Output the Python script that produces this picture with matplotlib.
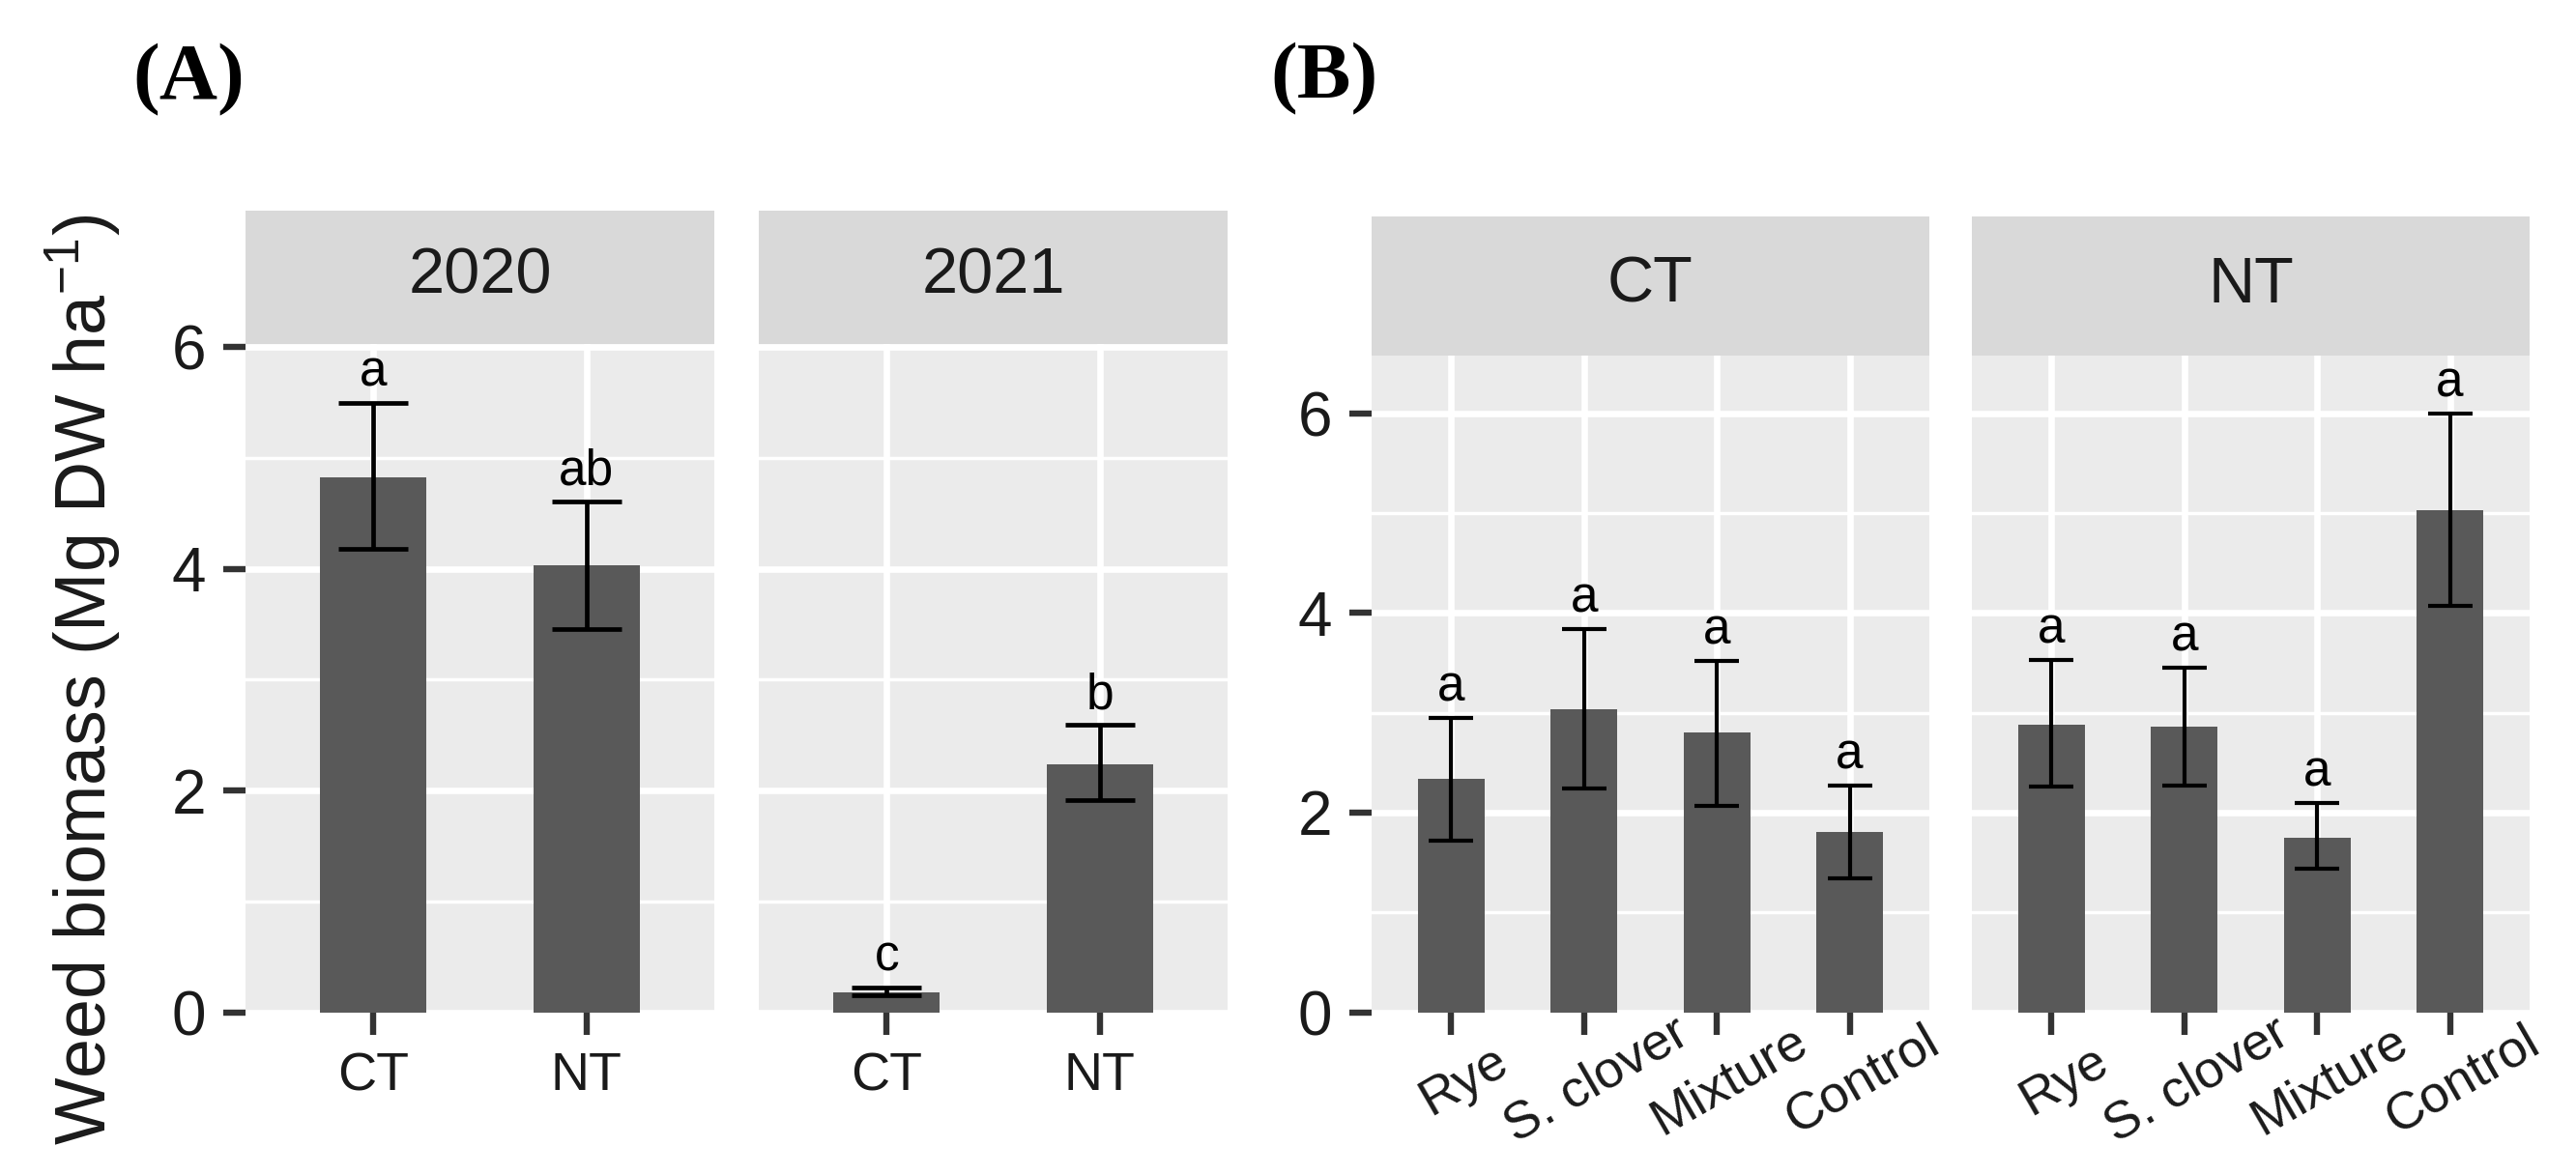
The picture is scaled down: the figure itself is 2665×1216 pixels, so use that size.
import matplotlib
matplotlib.use('Agg')
import matplotlib.pyplot as plt
from matplotlib.transforms import ScaledTranslation
import numpy as np

plt.rcParams['font.family'] = ['Liberation Sans', 'DejaVu Sans']
plt.rcParams['mathtext.fontset'] = 'custom'
plt.rcParams['mathtext.rm'] = 'Liberation Sans'
plt.rcParams['mathtext.it'] = 'Liberation Sans:italic'
plt.rcParams['mathtext.sf'] = 'Liberation Sans'

# ---------------- data ----------------
# Panel A: weed biomass by tillage, faceted by year
tillage_labels = ['CT', 'NT']
year_panels = ['2020', '2021']
biomass_2020 = [4.83, 4.03]
lower_2020 = [4.18, 3.46]
upper_2020 = [5.50, 4.61]
letters_2020 = ['a', 'ab']
biomass_2021 = [0.18, 2.24]
lower_2021 = [0.15, 1.91]
upper_2021 = [0.22, 2.59]
letters_2021 = ['c', 'b']

# Panel B: weed biomass by cover crop, faceted by tillage
cover_crops = ['Rye', 'S. clover', 'Mixture', 'Control']
tillage_panels = ['CT', 'NT']
biomass_ct = [2.34, 3.04, 2.80, 1.81]
lower_ct = [1.72, 2.24, 2.07, 1.34]
upper_ct = [2.95, 3.84, 3.52, 2.27]
letters_ct = ['a', 'a', 'a', 'a']
biomass_nt = [2.88, 2.86, 1.75, 5.03]
lower_nt = [2.26, 2.27, 1.44, 4.07]
upper_nt = [3.53, 3.45, 2.10, 6.00]
letters_nt = ['a', 'a', 'a', 'a']

y_major = [0, 2, 4, 6]
y_minor = [1, 3, 5]
y_label = 'Weed biomass (Mg DW ha$^{-1}$)'

# ---------------- figure ----------------
W, H = 2665, 1216
DPI = 100
fig = plt.figure(figsize=(W / DPI, H / DPI), dpi=DPI)
fig.patch.set_facecolor('white')

PANEL_BG = '#EBEBEB'
STRIP_BG = '#D9D9D9'
BAR_C = '#595959'
TICK_C = '#333333'
TXT_C = '#1A1A1A'


def px_box(x0, x1, ytop, ybot):
    return [x0 / W, 1 - ybot / H, (x1 - x0) / W, (ybot - ytop) / H]


def draw_panel(ax, cats, means, lo, hi, letters, ytop, capsize, elw,
               show_y, rotate):
    means = np.asarray(means)
    lo = np.asarray(lo)
    hi = np.asarray(hi)
    x = np.arange(len(cats))
    ax.set_facecolor(PANEL_BG)
    ax.bar(x, means, width=0.5, color=BAR_C, zorder=2)
    ax.errorbar(x, means, yerr=[means - lo, hi - means], fmt='none',
                ecolor='black', elinewidth=elw, capsize=capsize,
                capthick=elw, zorder=3)
    for xi, h, l in zip(x, hi, letters):
        ax.annotate(l, (xi, h), xytext=(0, 12.5), textcoords='offset points',
                    ha='center', va='baseline', fontsize=37, color='black',
                    zorder=4)
    ax.set_xlim(-0.6, len(cats) - 0.4)
    ax.set_ylim(0, ytop)
    for s in ax.spines.values():
        s.set_visible(False)
    ax.set_yticks(y_major)
    ax.set_yticks(y_minor, minor=True)
    ax.set_xticks(x)
    ax.set_axisbelow(True)
    ax.grid(which='major', color='white', linewidth=4.8)
    ax.grid(which='minor', axis='y', color='white', linewidth=2.5)
    ax.tick_params(which='minor', length=0)
    ax.tick_params(which='major', length=16.5, width=4.6, color=TICK_C)
    ax.tick_params(axis='y', pad=13, labelsize=46, labelcolor=TXT_C)
    if not show_y:
        ax.tick_params(axis='y', left=False, labelleft=False)
    if rotate:
        ax.set_xticklabels(cats, rotation=30, ha='center', va='center',
                           rotation_mode='anchor', fontsize=39, color=TXT_C)
        ax.tick_params(axis='x', pad=34.5)
        off = ScaledTranslation(13 / DPI, 0, fig.dpi_scale_trans)
        for lab in ax.get_xticklabels():
            lab.set_transform(lab.get_transform() + off)
    else:
        ax.set_xticklabels(cats, fontsize=40, color=TXT_C)
        ax.tick_params(axis='x', pad=13)


def draw_strip(x0, x1, ytop, ybot, label):
    sax = fig.add_axes(px_box(x0, x1, ytop, ybot))
    sax.set_facecolor(STRIP_BG)
    for s in sax.spines.values():
        s.set_visible(False)
    sax.set_xticks([])
    sax.set_yticks([])
    sax.text(0.5, 0.5, label, ha='center', va='center', fontsize=48,
             color=TXT_C, transform=sax.transAxes)


ZERO_Y = 1047.5

# Panel A
a_specs = [
    (254, 739, year_panels[0], biomass_2020, lower_2020, upper_2020, letters_2020, True),
    (785, 1270, year_panels[1], biomass_2021, lower_2021, upper_2021, letters_2021, False),
]
for x0, x1, lab, m, lo, hi, let, show_y in a_specs:
    ax = fig.add_axes(px_box(x0, x1, 356, ZERO_Y))
    draw_panel(ax, tillage_labels, m, lo, hi, let, 6.03, 26, 3.4, show_y, False)
    draw_strip(x0, x1, 218, 356, lab)

# Panel B
b_specs = [
    (1419, 1996, tillage_panels[0], biomass_ct, lower_ct, upper_ct, letters_ct, True),
    (2040, 2617, tillage_panels[1], biomass_nt, lower_nt, upper_nt, letters_nt, False),
]
for x0, x1, lab, m, lo, hi, let, show_y in b_specs:
    ax = fig.add_axes(px_box(x0, x1, 368, ZERO_Y))
    draw_panel(ax, cover_crops, m, lo, hi, let, 6.58, 16.5, 3.0, show_y, True)
    draw_strip(x0, x1, 224, 368, lab)

# y axis title
fig.text(86 / W, 1 - 703 / H, y_label, rotation=90, ha='center', va='center',
         fontsize=53, color=TXT_C)

# panel tags
fig.text(137 / W, 1 - 102 / H, '(A)', family=['Liberation Serif', 'DejaVu Serif'],
         weight='bold', fontsize=60, ha='left', va='baseline', color='black')
fig.text(1314 / W, 1 - 101 / H, '(B)', family=['Liberation Serif', 'DejaVu Serif'],
         weight='bold', fontsize=60, ha='left', va='baseline', color='black')

fig.savefig('out.png', dpi=DPI, facecolor='white')
